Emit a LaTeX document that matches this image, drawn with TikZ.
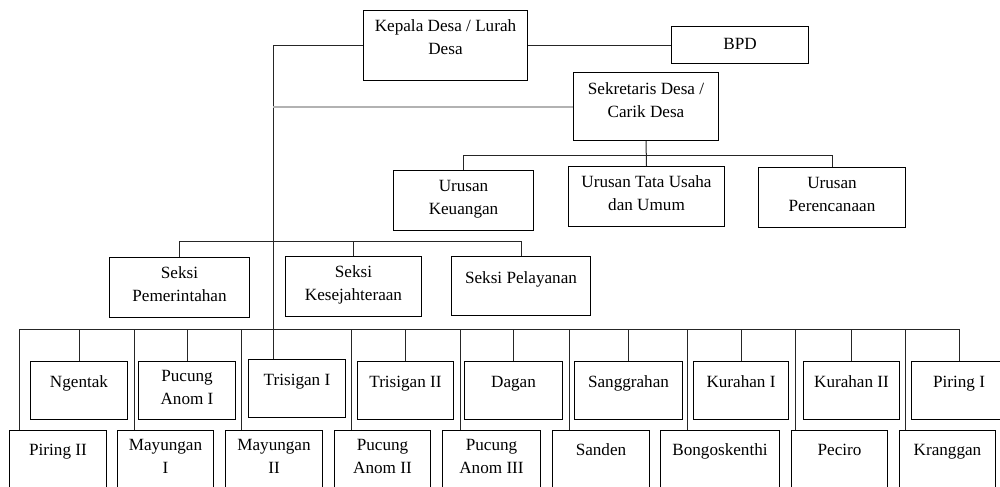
\documentclass[tikz,border=0pt]{standalone}
\usepackage{fontspec}
\setmainfont{Liberation Serif}
\tikzset{
  orgbox/.style={
    draw,
    rectangle,
    line width=0.7pt,
    align=center,
    anchor=north west,
    inner xsep=2pt,
    inner ysep=0pt,
    font=\fontsize{12}{16}\selectfont
  },
  boxw/.style={minimum width=#1*0.7pt},
  unit/.style={orgbox, text height=30.7pt, text depth=11.3pt},
  unitone/.style={orgbox, text height=18.9pt, text depth=22.4pt},
  village/.style={orgbox, text height=18.2pt, text depth=22.4pt},
  villagetwo/.style={orgbox, text height=30pt, text depth=10.6pt},
  hamlet/.style={orgbox, text height=17.5pt, text depth=45.5pt},
  hamlettwo/.style={orgbox, text height=30pt, text depth=33pt},
  link/.style={draw=black!85, line width=0.7pt},
  faintlink/.style={draw=black!30, line width=1.4pt}
}
\begin{document}
\begin{tikzpicture}[x=0.7pt, y=-0.7pt]
    \clip (0,0) rectangle (1000,486);
    \node[orgbox, boxw=164, text height=30.7pt, text depth=18.3pt] (kepala) at (363,10) {Kepala Desa / Lurah\\Desa};
    \node[orgbox, boxw=137, text height=16.1pt, text depth=9.8pt] (bpd) at (671,26) {BPD};
    \node[orgbox, boxw=145, text height=31.4pt, text depth=16.2pt] (sekretaris) at (573,72) {Sekretaris Desa /\\Carik Desa};

    \node[unit, boxw=140] (keuangan) at (393,170) {Urusan\\Keuangan};
    \node[unit, boxw=156] (tatausaha) at (568,166) {Urusan Tata Usaha\\dan Umum};
    \node[unit, boxw=147] (perencanaan) at (758,167) {Urusan\\Perencanaan};

    \node[unit, boxw=140] (pemerintahan) at (109,257) {Seksi\\Pemerintahan};
    \node[unit, boxw=136] (kesejahteraan) at (285,256) {Seksi\\Kesejahteraan};
    \node[unitone, boxw=139] (pelayanan) at (451,256) {Seksi Pelayanan};

    \node[village, boxw=97] (ngentak) at (30,361) {Ngentak};
    \node[villagetwo, boxw=97] (pucung1) at (138,361) {Pucung\\Anom I};
    \node[village, boxw=97] (trisigan1) at (248,359) {Trisigan I};
    \node[village, boxw=96] (trisigan2) at (357,361) {Trisigan II};
    \node[village, boxw=98] (dagan) at (464,361) {Dagan};
    \node[village, boxw=108] (sanggrahan) at (574,361) {Sanggrahan};
    \node[village, boxw=95] (kurahan1) at (693,361) {Kurahan I};
    \node[village, boxw=96] (kurahan2) at (803,361) {Kurahan II};
    \node[village, boxw=95] (piring1) at (911,361) {Piring I};

    \node[hamlet, boxw=97] (piring2) at (9,430) {Piring II};
    \node[hamlettwo, boxw=96] (mayungan1) at (117,430) {Mayungan\\I};
    \node[hamlettwo, boxw=97] (mayungan2) at (225,430) {Mayungan\\II};
    \node[hamlettwo, boxw=96] (pucung2) at (334,430) {Pucung\\Anom II};
    \node[hamlettwo, boxw=98] (pucung3) at (442,430) {Pucung\\Anom III};
    \node[hamlet, boxw=97] (sanden) at (552,430) {Sanden};
    \node[hamlet, boxw=119] (bongoskenthi) at (660,430) {Bongoskenthi};
    \node[hamlet, boxw=96] (peciro) at (791,430) {Peciro};
    \node[hamlet, boxw=96] (kranggan) at (899,430) {Kranggan};

    \coordinate (spine) at (273,46);
    \coordinate (urusanbus) at (646,155);
    \coordinate (seksibus) at (273,241);
    \coordinate (villagebus) at (19,329);

    \draw[link] (kepala.west) -| ([xshift=17.5pt]trisigan1.north west);
    \draw[link] (kepala.east) -- (kepala.east -| bpd.west);
    \draw[faintlink] (sekretaris.west) -- (sekretaris.west -| spine);
    \draw[link] (sekretaris.south) -- (tatausaha.north);
    \draw[link] (keuangan.north) |- (perencanaan.north |- urusanbus) -- (perencanaan.north);
    \draw[link] (pemerintahan.north) |- (pelayanan.north |- seksibus) -- (pelayanan.north);
    \draw[link] (kesejahteraan.north) -- (kesejahteraan.north |- seksibus);
    \draw[link] (villagebus) -- (villagebus -| piring1.north);
    \foreach \n in {ngentak, pucung1, trisigan2, dagan, sanggrahan, kurahan1, kurahan2, piring1}
        \draw[link] (\n.north) -- (\n.north |- villagebus);
    \foreach \n/\dx in {piring2/10, mayungan1/17, mayungan2/16, pucung2/17, pucung3/18, sanden/17, bongoskenthi/27, peciro/4, kranggan/6}
        \draw[link] ([xshift=\dx*0.7pt]\n.north west) -- ++(0,-101);
\end{tikzpicture}
\end{document}
